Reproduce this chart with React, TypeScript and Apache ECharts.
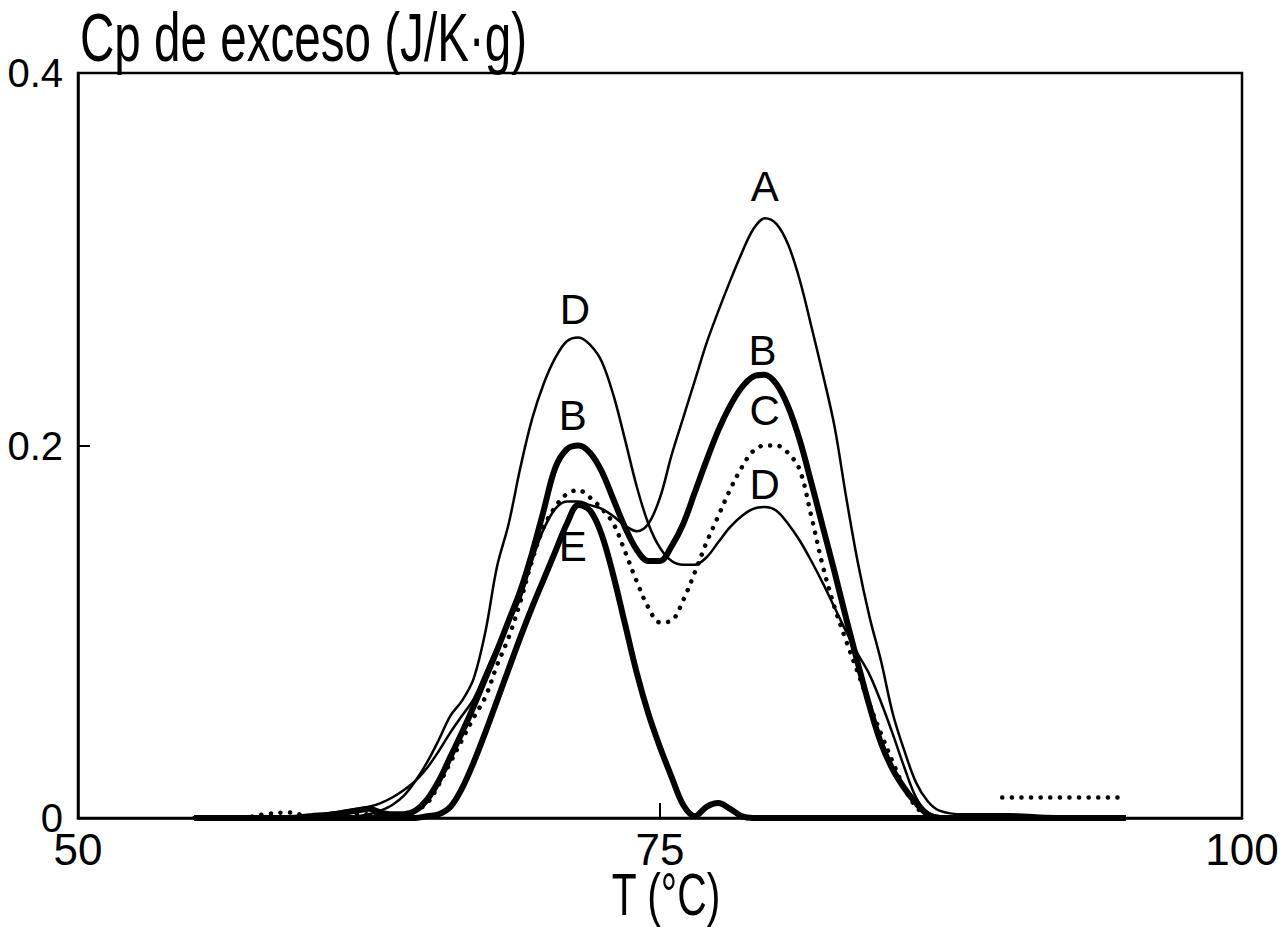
import React, { useEffect, useRef } from "react";
import * as echarts from "echarts";

const FONT = "'Liberation Sans', Arial, sans-serif";

// Temperature grid (°C)
const temps = [
  55, 56, 57, 58, 59, 60, 61, 62,
  62.5, 63, 63.5, 64, 64.5, 65, 65.5, 66, 66.5, 67, 67.5, 68, 68.5, 69, 69.5, 70,
  70.5, 71, 71.5, 72, 72.5, 73, 73.5, 74, 74.5, 75, 75.5, 76, 76.5, 77, 77.5, 78,
  78.5, 79, 79.5, 80, 80.5, 81, 81.5, 82, 82.5, 83, 83.5, 84, 84.5, 85, 85.5, 86,
  86.5, 87, 88, 90, 92, 95,
];

// Excess Cp (J/K·g) for each curve on the grid above
const curveA = [
  0, 0, 0, 0, 0, 0.001, 0.003, 0.005,
  0.006, 0.008, 0.011, 0.015, 0.02, 0.027, 0.036, 0.046, 0.055, 0.064, 0.078, 0.092, 0.105, 0.118, 0.138, 0.155,
  0.166, 0.17, 0.17, 0.168, 0.166, 0.162, 0.157, 0.154, 0.158, 0.172, 0.195, 0.215, 0.235, 0.255, 0.272, 0.288,
  0.303, 0.316, 0.322, 0.319, 0.308, 0.289, 0.264, 0.238, 0.21, 0.172, 0.137, 0.108, 0.084, 0.056, 0.036, 0.019,
  0.009, 0.004, 0.002, 0.002, 0.001, 0.001,
];
const curveB = [
  0, 0, 0, 0, 0, 0.001, 0.002, 0.004,
  0.005, 0.003, 0.002, 0.002, 0.004, 0.01, 0.02, 0.033, 0.046, 0.06, 0.075, 0.09, 0.106, 0.122, 0.142, 0.165,
  0.188, 0.198, 0.2, 0.196, 0.186, 0.171, 0.156, 0.144, 0.138, 0.138, 0.146, 0.158, 0.175, 0.192, 0.208, 0.221,
  0.231, 0.237, 0.238, 0.233, 0.221, 0.203, 0.18, 0.156, 0.132, 0.107, 0.083, 0.06, 0.04, 0.026, 0.016, 0.008,
  0.002, 0, 0, 0, 0, 0,
];
const curveC = [
  0, 0, 0, 0.002, 0.003, 0.001, 0.001, 0.002,
  0.002, 0.002, 0.001, 0.002, 0.004, 0.008, 0.018, 0.03, 0.042, 0.054, 0.065, 0.082, 0.097, 0.116, 0.138, 0.156,
  0.167, 0.174, 0.176, 0.172, 0.166, 0.158, 0.143, 0.127, 0.113, 0.105, 0.106, 0.117, 0.132, 0.148, 0.162, 0.176,
  0.188, 0.197, 0.2, 0.2, 0.196, 0.187, 0.162, 0.135, 0.113, 0.095, 0.078, 0.061, 0.045, 0.03, 0.016, 0.006,
  0.001, 0, 0, 0, 0, 0,
];
const curveCTailT = [89.7, 95];
const curveCTail = [0.011, 0.011];
const curveD = [
  0, 0, 0, 0, 0, 0, 0, 0.001,
  0.002, 0.004, 0.007, 0.012, 0.02, 0.03, 0.042, 0.055, 0.063, 0.075, 0.1, 0.135, 0.158, 0.188, 0.214, 0.233,
  0.247, 0.256, 0.258, 0.254, 0.245, 0.227, 0.203, 0.178, 0.158, 0.145, 0.138, 0.136, 0.136, 0.14, 0.148, 0.156,
  0.162, 0.166, 0.167, 0.165, 0.158, 0.149, 0.138, 0.126, 0.113, 0.1, 0.088, 0.077, 0.062, 0.045, 0.027, 0.011,
  0.003, 0.001, 0, 0, 0, 0,
];
const curveE = [
  0, 0, 0, 0, 0, 0, 0, 0,
  0, 0, 0, 0, 0, 0.001, 0.002, 0.006, 0.016, 0.03, 0.046, 0.063, 0.08, 0.097, 0.113, 0.128,
  0.143, 0.158, 0.168, 0.165, 0.152, 0.13, 0.104, 0.078, 0.056, 0.038, 0.022, 0.007, 0.001, 0.006, 0.008, 0.005,
  0.001, 0, 0, 0, 0, 0, 0, 0, 0, 0, 0, 0, 0, 0, 0, 0,
  0, 0, 0, 0, 0, 0,
];

// Curve letters: text, T, Cp
const labelTexts = ["A", "D", "B", "B", "C", "D", "E"];
const labelT = [79.5, 71.35, 71.25, 79.4, 79.5, 79.5, 71.25];
const labelV = [0.339, 0.273, 0.216, 0.251, 0.219, 0.179, 0.146];

const xTicks = [50, 75, 100];
const yTicks = [0, 0.2, 0.4];

const zip = (xs: number[], ys: number[]) => xs.map((x, i) => [x, ys[i]]);

export default function App() {
  const ref = useRef<HTMLDivElement>(null);
  useEffect(() => {
    if (!ref.current) return;
    const chart = echarts.init(ref.current, null, { renderer: "svg" });
    const thin = { color: "#000", width: 2.5 };
    const thick = { color: "#000", width: 6 };
    const dotted = { color: "#000", width: 4.5, type: [0.1, 9.5], cap: "round" };
    const lineBase = {
      type: "line" as const,
      showSymbol: false,
      smooth: 0.35,
      silent: true,
    };
    chart.setOption({
      animation: false,
      backgroundColor: "#fff",
      grid: {
        left: 78,
        right: 42,
        top: 73,
        bottom: 109,
        outerBoundsMode: "none",
        containLabel: false,
        show: true,
        borderColor: "#000",
        borderWidth: 2.5,
      },
      graphic: [
        {
          type: "text",
          x: 80,
          y: 37,
          scaleX: 0.7,
          style: {
            text: "Cp de exceso (J/K·g)",
            fontFamily: FONT,
            fontSize: 68,
            lineHeight: 68,
            fill: "#000",
            textAlign: "left",
            textVerticalAlign: "middle",
          },
        },
        {
          type: "text",
          x: 666,
          y: 895,
          scaleX: 0.68,
          style: {
            text: "T (°C)",
            fontFamily: FONT,
            fontSize: 60,
            lineHeight: 48,
            fill: "#000",
            textAlign: "center",
            textVerticalAlign: "middle",
          },
        },
      ],
      xAxis: {
        type: "value",
        min: xTicks[0],
        max: xTicks[xTicks.length - 1],
        interval: 25,
        axisLine: { show: true, lineStyle: { color: "#000", width: 2.5 } },
        axisTick: { show: true, inside: true, length: 15, lineStyle: { color: "#000", width: 2 } },
        axisLabel: { fontFamily: FONT, fontSize: 44, lineHeight: 36, color: "#000", margin: 13 },
        splitLine: { show: false },
      },
      yAxis: {
        type: "value",
        min: yTicks[0],
        max: yTicks[yTicks.length - 1],
        interval: 0.2,
        axisLine: { show: true, lineStyle: { color: "#000", width: 2.5 } },
        axisTick: { show: true, inside: true, length: 12, lineStyle: { color: "#000", width: 2 } },
        axisLabel: { fontFamily: FONT, fontSize: 40, lineHeight: 30, color: "#000", margin: 15 },
        splitLine: { show: false },
      },
      series: [
        { ...lineBase, name: "A", data: zip(temps, curveA), lineStyle: thin },
        { ...lineBase, name: "D", data: zip(temps, curveD), lineStyle: thin },
        { ...lineBase, name: "C", data: zip(temps, curveC), lineStyle: dotted },
        {
          ...lineBase,
          name: "C tail",
          data: zip(curveCTailT, curveCTail),
          smooth: false,
          lineStyle: dotted,
        },
        { ...lineBase, name: "B", data: zip(temps, curveB), lineStyle: thick },
        { ...lineBase, name: "E", data: zip(temps, curveE), lineStyle: thick },
        {
          type: "scatter",
          name: "labels",
          silent: true,
          symbolSize: 1,
          itemStyle: { color: "rgba(0,0,0,0)", opacity: 1 },
          data: labelTexts.map((t, i) => [labelT[i], labelV[i], t]),
          label: {
            show: true,
            position: "inside",
            formatter: (p: any) => p.value[2],
            fontFamily: FONT,
            fontSize: 42,
            color: "#000",
            opacity: 1,
            textBorderWidth: 0,
          },
        },
      ],
    });
    return () => chart.dispose();
  }, []);
  return (
    <div
      ref={ref}
      style={{ position: "fixed", left: 0, top: 0, width: 1284, height: 927, background: "#fff" }}
    />
  );
}
